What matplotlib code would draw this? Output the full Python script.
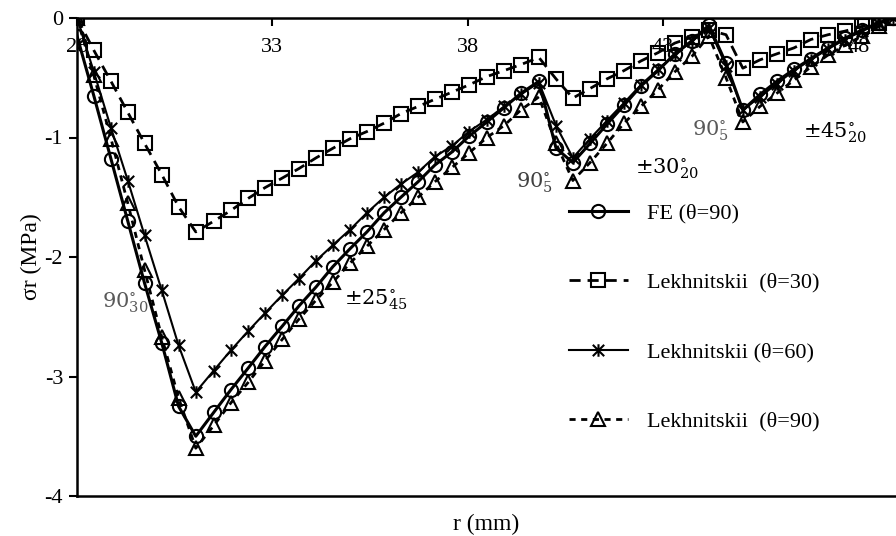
import numpy as np
import matplotlib
matplotlib.use('Agg')
import matplotlib.pyplot as plt
from matplotlib.path import Path

# radial positions (mm)
r = [28.0, 28.43, 28.87, 29.30, 29.73, 30.17, 30.60, 31.04,
     31.50, 31.94, 32.38, 32.81, 33.25, 33.68, 34.12, 34.55, 34.99, 35.42,
     35.86, 36.29, 36.73, 37.16, 37.60, 38.03, 38.49, 38.93, 39.36, 39.82,
     40.26, 40.69,
     41.13, 41.56, 42.00, 42.43, 42.87, 43.30, 43.74, 44.17,
     44.61, 45.04,
     45.48, 45.91, 46.35, 46.78, 47.22, 47.65, 48.09, 48.52, 48.88]

fe_90 = [-0.15, -0.65, -1.18, -1.70, -2.22, -2.72, -3.25, -3.50,
         -3.30, -3.11, -2.93, -2.75, -2.58, -2.41, -2.25, -2.08, -1.93, -1.79,
         -1.63, -1.50, -1.37, -1.23, -1.12, -0.99, -0.87, -0.75, -0.63, -0.53,
         -1.09, -1.21,
         -1.05, -0.89, -0.73, -0.57, -0.44, -0.30, -0.19, -0.06,
         -0.38, -0.77,
         -0.64, -0.53, -0.43, -0.34, -0.25, -0.17, -0.10, -0.04, 0.0]

lek_30 = [0.0, -0.27, -0.53, -0.79, -1.05, -1.31, -1.58, -1.79,
          -1.70, -1.61, -1.51, -1.42, -1.34, -1.26, -1.17, -1.09, -1.01, -0.95,
          -0.88, -0.80, -0.74, -0.68, -0.62, -0.56, -0.49, -0.44, -0.39, -0.33,
          -0.51, -0.67,
          -0.59, -0.51, -0.44, -0.36, -0.29, -0.21, -0.16, -0.10,
          -0.14, -0.42,
          -0.35, -0.30, -0.25, -0.18, -0.14, -0.11, -0.07, -0.04, 0.0]

lek_60 = [0.0, -0.45, -0.92, -1.36, -1.82, -2.28, -2.74, -3.13,
          -2.95, -2.78, -2.62, -2.47, -2.32, -2.18, -2.03, -1.90, -1.77, -1.63,
          -1.50, -1.39, -1.29, -1.16, -1.07, -0.95, -0.85, -0.74, -0.64, -0.54,
          -0.90, -1.17,
          -1.01, -0.86, -0.71, -0.56, -0.43, -0.31, -0.19, -0.08,
          -0.40, -0.77,
          -0.66, -0.55, -0.44, -0.35, -0.26, -0.18, -0.11, -0.05, 0.0]

lek_90 = [0.0, -0.48, -1.01, -1.55, -2.11, -2.67, -3.18, -3.60,
          -3.41, -3.22, -3.05, -2.87, -2.69, -2.52, -2.36, -2.21, -2.05, -1.91,
          -1.77, -1.63, -1.50, -1.37, -1.25, -1.13, -1.00, -0.90, -0.77, -0.66,
          -1.05, -1.36,
          -1.21, -1.05, -0.88, -0.74, -0.60, -0.45, -0.32, -0.15,
          -0.50, -0.87,
          -0.74, -0.63, -0.52, -0.41, -0.31, -0.23, -0.15, -0.07, 0.0]

xticks = [28, 33, 38, 43, 48]
yticks = [0, -1, -2, -3, -4]

# layer labels: (text, r, sigma, colour)
layers = [(r'$90^{\circ}_{30}$', 29.23, -2.38, '#595959'),
          (r'$\pm25^{\circ}_{45}$', 35.65, -2.36, 'black'),
          (r'$90^{\circ}_{5}$', 39.72, -1.38, '#404040'),
          (r'$\pm30^{\circ}_{20}$', 43.1, -1.26, 'black'),
          (r'$90^{\circ}_{5}$', 44.2, -0.94, '#595959'),
          (r'$\pm45^{\circ}_{20}$', 47.4, -0.96, 'black')]

plt.rcParams['font.family'] = ['Liberation Serif', 'DejaVu Serif']
plt.rcParams['mathtext.fontset'] = 'dejavuserif'

# excel style star: an x with a short vertical bar
star = Path([(-1, -1), (1, 1), (-1, 1), (1, -1), (0, -1.1), (0, 1.1)],
            [Path.MOVETO, Path.LINETO, Path.MOVETO, Path.LINETO, Path.MOVETO, Path.LINETO])

fig = plt.figure(figsize=(8.96, 5.36), dpi=100)
ax = fig.add_axes([77/896, 40/536, 1 - 77/896, 478/536])

ax.plot(r, fe_90, color='black', lw=2.2, marker='o', ms=9.5, mfc='none', mew=1.5,
        label='FE (θ=90)', zorder=3)
l30, = ax.plot(r, lek_30, color='black', lw=2.0, marker='s', ms=9.5, mfc='none', mew=1.5,
               label='Lekhnitskii  (θ=30)', zorder=3)
l30.set_dashes([4, 2.5])
ax.plot(r, lek_60, color='black', lw=1.5, marker=star, ms=9, mew=1.5,
        label='Lekhnitskii (θ=60)', zorder=3)
l90, = ax.plot(r, lek_90, color='black', lw=2.0, marker='^', ms=9.5, mfc='none', mew=1.5,
               label='Lekhnitskii  (θ=90)', zorder=3)
l90.set_dashes([2.2, 2])

for txt, xx, yy, c in layers:
    ax.text(xx, yy, txt, fontsize=15, color=c, ha='center', va='center')

ax.set_xlim(28, 48.96)
ax.set_ylim(-4, 0)
ax.set_xticks(xticks)
ax.set_yticks(yticks)
ax.set_yticklabels([str(v) for v in yticks])
ax.xaxis.tick_top()
ax.tick_params(axis='x', direction='in', length=6, width=1.5, labelsize=16, pad=-28)
ax.tick_params(axis='y', direction='out', length=6, width=1.5, labelsize=16, pad=4)
for s in ['left', 'top', 'bottom']:
    ax.spines[s].set_linewidth(1.8)
ax.spines['right'].set_visible(False)

ax.set_ylabel('σr (MPa)', fontsize=17, labelpad=2)
ax.text(0.5, -0.06, 'r (mm)', transform=ax.transAxes, fontsize=17, ha='center', va='center')

leg = ax.legend(loc='upper left', bbox_to_anchor=(0.576, 0.655), frameon=False, fontsize=16,
                labelspacing=2.2, handlelength=2.65, handletextpad=0.85)

fig.savefig('out.png', dpi=100)
